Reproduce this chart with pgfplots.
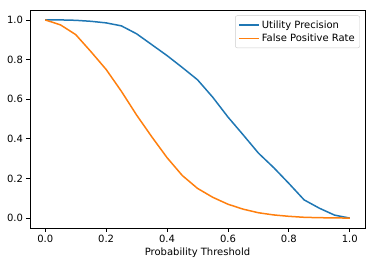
\documentclass[border=0pt]{standalone}
\usepackage{fontspec}
\setmainfont{DejaVu Sans}
\usepackage{pgfplots}
\pgfplotsset{compat=1.18}
\usetikzlibrary{calc}
\definecolor{mplblue}{HTML}{1F77B4}
\definecolor{mplorange}{HTML}{FF7F0E}
\definecolor{legedge}{gray}{0.8}
\begin{document}
\begin{tikzpicture}
\begin{axis}[
  name=ax,
  scale only axis,
  width=335pt, height=218pt,
  xmin=-0.05, xmax=1.05, ymin=-0.05, ymax=1.05,
  xtick={0,0.2,0.4,0.6,0.8,1.0},
  ytick={0,0.2,0.4,0.6,0.8,1.0},
  /pgf/number format/.cd, fixed, fixed zerofill, precision=1, assume math mode=true,
  /pgfplots/.cd,
  tick style={black, line width=0.8pt},
  tick align=outside,
  major tick length=3.5pt,
  xtick pos=bottom, ytick pos=left,
  axis line style={line width=0.8pt},
  ticklabel style={font=\fontsize{10}{12}\selectfont},
  xlabel={Probability Threshold},
  label style={font=\fontsize{10}{12}\selectfont},
  xlabel style={yshift=2pt},
  legend style={at={(0.985,0.975)}, anchor=north east, draw=legedge, fill=white, rounded corners=2pt,
    font=\fontsize{10}{12}\selectfont, inner sep=3pt},
  legend cell align=left,
  legend image code/.code={\draw[line width=1.5pt,#1] (0pt,0pt) -- (20pt,0pt);},
]
\addlegendimage{color=mplblue}
\addlegendentry{Utility Precision}
\addlegendimage{color=mplorange}
\addlegendentry{False Positive Rate}
\addplot[forget plot, color=mplblue, line width=1.5pt] coordinates {
(0,1.0) (0.05,1.0) (0.1,0.998) (0.15,0.993) (0.2,0.985) (0.25,0.97) (0.3,0.93)
(0.35,0.875) (0.4,0.82) (0.45,0.76) (0.5,0.698) (0.55,0.61) (0.6,0.51)
(0.65,0.42) (0.7,0.328) (0.75,0.255) (0.8,0.175) (0.85,0.092) (0.9,0.05)
(0.95,0.015) (1.0,0.0)};
\addplot[forget plot, color=mplorange, line width=1.5pt] coordinates {
(0,1.0) (0.05,0.975) (0.1,0.926) (0.15,0.84) (0.2,0.75) (0.25,0.64) (0.3,0.52)
(0.35,0.41) (0.4,0.305) (0.45,0.215) (0.5,0.15) (0.55,0.105) (0.6,0.07)
(0.65,0.045) (0.7,0.027) (0.75,0.016) (0.8,0.009) (0.85,0.004) (0.9,0.002)
(0.95,0.001) (1.0,0.0)};
\end{axis}
\pgfresetboundingbox
\path ($(ax.south west)+(-30pt,-38pt)$) rectangle ($(ax.north east)+(10pt,10pt)$);
\end{tikzpicture}
\end{document}
